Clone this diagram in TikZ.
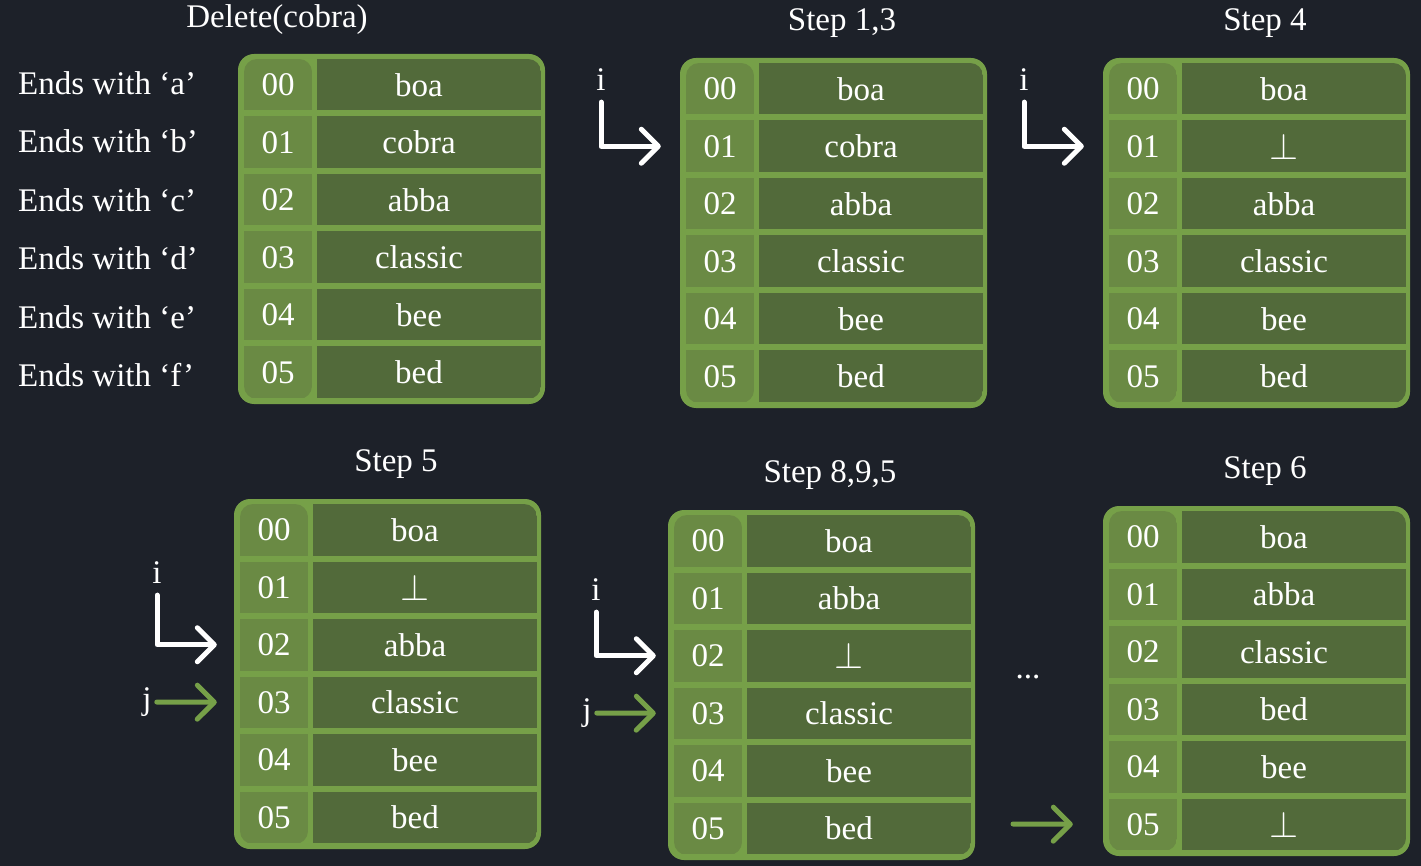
\documentclass[tikz,border=0pt]{standalone}
\usepackage{fontspec}
\usepackage{graphicx}
\setmainfont{Liberation Serif}
\usetikzlibrary{arrows.meta,positioning}

\definecolor{bgdark}{HTML}{1D2129}
\definecolor{tabedge}{HTML}{76A048}
\definecolor{keygreen}{HTML}{6A8A44}
\definecolor{valgreen}{HTML}{526A3A}

\tikzset{
  txt/.style={text=white, font=\fontsize{33}{38}\selectfont},
  keycell/.style={txt, fill=keygreen, minimum width=68pt, minimum height=51.5pt, inner sep=0pt},
  valcell/.style={txt, fill=valgreen, minimum width=224pt, minimum height=51.5pt, inner sep=0pt},
  steptitle/.style={txt},
  rowlabel/.style={txt, anchor=west, inner sep=0pt},
  ptrlabel/.style={txt, inner sep=5pt},
  iptr/.style={draw=white, line width=5pt, line cap=round, line join=round, shorten <=6pt,
    -{Straight Barb[length=17pt,width=34pt,round]}},
  jptr/.style={iptr, draw=tabedge, shorten <=0pt},
}

\newcommand{\emptyslot}{\scalebox{1.5}{$\bot$}}

% one table: name, left, top, values
\newcommand{\hashtab}[4]{%
  \fill[tabedge, rounded corners=16pt] (#2,#3) rectangle ++(307,350);
  \begin{scope}
    \clip[rounded corners=13pt] (#2+6,#3+5) rectangle (#2+74,#3+345);
    \foreach \r in {0,...,5}
      \node[keycell] (#1k\r) at (#2+40,#3+30.75+\r*57.5) {0\r};
  \end{scope}
  \begin{scope}
    \clip[rounded corners=13pt] (#2+40,#3+5) rectangle (#2+303,#3+345);
    \foreach \v [count=\r from 0] in {#4}
      \node[valcell] (#1v\r) at (#2+191,#3+30.75+\r*57.5) {\v\hspace*{20pt}};
  \end{scope}
}

\begin{document}
\begin{tikzpicture}[x=1pt,y=-1pt]
  \useasboundingbox (0,0) rectangle (1421,866);
  \fill[bgdark] (0,0) rectangle (1421,866);

  % tables
  \hashtab{t1}{238}{54}{boa,cobra,abba,classic,bee,bed}
  \hashtab{t2}{680}{58}{boa,cobra,abba,classic,bee,bed}
  \hashtab{t3}{1103}{58}{boa,\emptyslot,abba,classic,bee,bed}
  \hashtab{t4}{234}{499}{boa,\emptyslot,abba,classic,bee,bed}
  \hashtab{t5}{668}{510}{boa,abba,\emptyslot,classic,bee,bed}
  \hashtab{t6}{1103}{506}{boa,abba,classic,bed,bee,\emptyslot}

  % titles
  \node[steptitle] (h1) at (277,20) {Delete(cobra)};
  \node[steptitle] (h2) at (842,23) {Step 1,3};
  \node[steptitle] (h3) at (1265,23) {Step 4};
  \node[steptitle] (h4) at (396,464) {Step 5};
  \node[steptitle] (h5) at (830,475) {Step 8,9,5};
  \node[steptitle] (h6) at (1265,471) {Step 6};

  % row labels
  \foreach \c [count=\r from 0] in {a,b,c,d,e,f}
    \node[rowlabel] (lab\r) at (18,{83+\r*58.5}) {Ends with ‘\c’};

  % pointers
  \node[ptrlabel] (i2) at (601,80) {i};
  \node[ptrlabel] (i3) at (1024,80) {i};
  \node[ptrlabel] (i4) at (157,573) {i};
  \node[ptrlabel] (i5) at (596,590) {i};
  \node[ptrlabel] (j4) at (147,702) {j};
  \node[ptrlabel] (j5) at (587,713) {j};
  \coordinate (j6) at (1013,824);
  \node[txt] (dots) at (1028,677) {...};

  \draw[iptr] (i2) |- ([xshift=-25pt]t2k1.west);
  \draw[iptr] (i3) |- ([xshift=-25pt]t3k1.west);
  \draw[iptr] (i4) |- ([xshift=-23pt]t4k2.west);
  \draw[iptr] (i5) |- ([xshift=-18pt]t5k2.west);
  \draw[jptr] (j4) -- ([xshift=-23pt]t4k3.west);
  \draw[jptr] (j5) -- ([xshift=-18pt]t5k3.west);
  \draw[jptr] (j6) -- ([xshift=-36pt]t6k5.west);
\end{tikzpicture}
\end{document}
